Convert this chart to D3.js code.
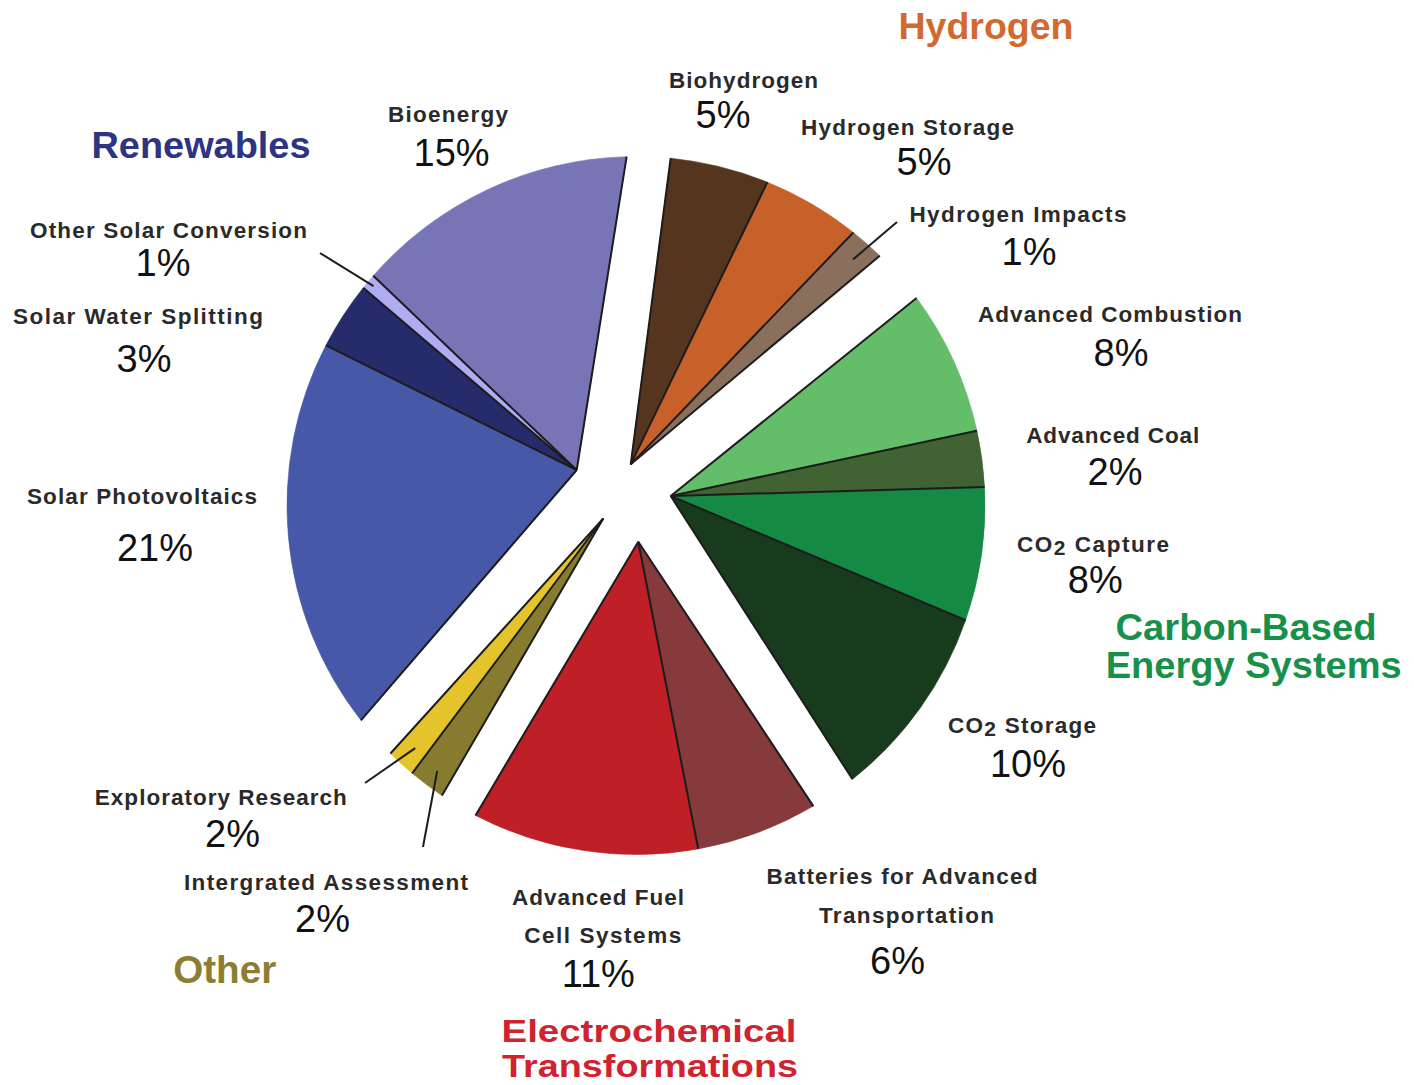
<!DOCTYPE html>
<html>
<head>
<meta charset="utf-8">
<script src="https://cdn.jsdelivr.net/npm/d3@7/dist/d3.min.js"></script>
<style>
  html, body { margin: 0; padding: 0; background: #ffffff; }
  svg { display: block; }
</style>
</head>
<body>
<svg id="chart" width="1414" height="1085"></svg>
<script>
// ---------------- DATA ----------------
const categories = [
  "Biohydrogen", "Hydrogen Storage", "Hydrogen Impacts",
  "Advanced Combustion", "Advanced Coal", "CO2 Capture", "CO2 Storage",
  "Batteries for Advanced Transportation", "Advanced Fuel Cell Systems",
  "Intergrated Assessment", "Exploratory Research",
  "Solar Photovoltaics", "Solar Water Splitting", "Other Solar Conversion", "Bioenergy"
];
// label lines as printed
const labelLines = [
  ["Biohydrogen"], ["Hydrogen Storage"], ["Hydrogen Impacts"],
  ["Advanced Combustion"], ["Advanced Coal"], ["CO2 Capture"], ["CO2 Storage"],
  ["Batteries for Advanced", "Transportation"], ["Advanced Fuel", "Cell Systems"],
  ["Intergrated Assessment"], ["Exploratory Research"],
  ["Solar Photovoltaics"], ["Solar Water Splitting"], ["Other Solar Conversion"], ["Bioenergy"]
];
// share of the pie (percent)
const shares = [5.1, 5.1, 1.8, 7.5, 2.9, 6.9, 10.1, 6.3, 11.7, 1.9, 1.5, 20.3, 3.5, 0.8, 14.7];
// percent labels as printed
const percentLabels = ["5%", "5%", "1%", "8%", "2%", "8%", "10%", "6%", "11%", "2%", "2%", "21%", "3%", "1%", "15%"];
// group membership of each category
const groupOfCategory = [0, 0, 0, 1, 1, 1, 1, 2, 2, 3, 3, 4, 4, 4, 4];
const groupTitles = [
  ["Hydrogen"],
  ["Carbon-Based", "Energy Systems"],
  ["Electrochemical", "Transformations"],
  ["Other"],
  ["Renewables"]
];

// ---------------- STYLE / LAYOUT ----------------
const sliceColors = [
  "#56351f", "#c8602a", "#8b6f5d",
  "#63bd69", "#416232", "#148a44", "#193b1d",
  "#873a3c", "#bf1f27",
  "#877b30", "#e4c32b",
  "#4858a8", "#262b6b", "#b0acf2", "#7875b6"
];
const groupColors = ["#d2692e", "#17914a", "#d1232e", "#8c7d33", "#2e3383"];

const CX = 636, CY = 505.5, R = 349;
const DEG = Math.PI / 180;
const START_DEG = 5.7;                          // where the first group begins
const GAP_AFTER_DEG = [9.2, 7.8, 6.4, 7.3, 7.24]; // white gap after each group
// explosion of each group's apex: [distance, direction in degrees clockwise from north]
const EXPLODE = [[41.5, 352.7], [36, 74.7], [36.3, 176.4], [35.2, 248.3], [69.1, 300.9]];

// label layout: name lines [cx, baseline, width], percent [cx, baseline]
const labelLayout = [
  { lines: [[743.5, 88, 149]], pct: [723, 128.3] },
  { lines: [[907.5, 135, 213]], pct: [924, 175] },
  { lines: [[1018, 221.7, 217]], pct: [1029, 265], leader: [897, 222, 0.94] },
  { lines: [[1110, 321.7, 264]], pct: [1121, 366] },
  { lines: [[1112.7, 443.3, 173]], pct: [1115, 485] },
  { lines: [[1093, 551.7, 152]], pct: [1095.3, 593.3] },
  { lines: [[1022, 733.3, 148]], pct: [1028, 777.3] },
  { lines: [[902, 884.3, 271], [906.5, 922.7, 175]], pct: [897.5, 974] },
  { lines: [[598, 905, 172], [602.7, 943.3, 157]], pct: [598.3, 986.7] },
  { lines: [[326, 890, 284]], pct: [322.5, 932.3], leader: [423, 847, 0.95] },
  { lines: [[220.8, 805, 252]], pct: [232.5, 847.3], leader: [365, 783, 0.94] },
  { lines: [[142, 504, 230]], pct: [155, 560.7] },
  { lines: [[138, 324, 250]], pct: [144, 371.7] },
  { lines: [[168.5, 238.3, 277]], pct: [163, 276], leader: [320, 253, 0.98] },
  { lines: [[448, 121.7, 120]], pct: [451.6, 165.7] }
];
// title lines [cx, baseline, width, font-size]
const titleLayout = [
  [[986, 39, 175, 37]],
  [[1246, 640, 261, 36], [1253.7, 678, 296, 36]],
  [[649, 1042, 295, 32], [650, 1077, 296, 32]],
  [[224.7, 983, 103, 38]],
  [[201, 158, 219, 37]]
];

// ---------------- BUILD ----------------
const svg = d3.select("#chart");
const data = categories.map((c, i) => ({ name: c, share: shares[i], g: groupOfCategory[i], i }));

const sweep = (360 - d3.sum(GAP_AFTER_DEG)) * DEG;
const pie = d3.pie().sort(null).value(d => d.share).startAngle(0).endAngle(sweep);
const arcs = pie(data);
const cumGap = GAP_AFTER_DEG.map((_, k) => d3.sum(GAP_AFTER_DEG.slice(0, k)));
arcs.forEach(a => {
  const off = (START_DEG + cumGap[a.data.g]) * DEG;
  a.a0 = a.startAngle + off;
  a.a1 = a.endAngle + off;
});

const apex = EXPLODE.map(([d, dir]) => [CX + d * Math.sin(dir * DEG), CY - d * Math.cos(dir * DEG)]);
const onCircle = (ang, r = R) => [CX + r * Math.sin(ang), CY - r * Math.cos(ang)];

function slicePath(a) {
  const p = d3.path();
  const [ax, ay] = apex[a.data.g];
  const s = onCircle(a.a0);
  p.moveTo(ax, ay);
  p.lineTo(s[0], s[1]);
  p.arc(CX, CY, R, a.a0 - Math.PI / 2, a.a1 - Math.PI / 2, false);
  p.closePath();
  return p.toString();
}

const gSlices = svg.append("g");
gSlices.selectAll("path.slice").data(arcs).join("path")
  .attr("class", "slice")
  .attr("d", slicePath)
  .attr("fill", d => sliceColors[d.data.i])
  .attr("stroke", d => sliceColors[d.data.i])
  .attr("stroke-width", 0.6);

// radial edges (outer arcs are not outlined)
const edges = [];
arcs.forEach((a, k) => {
  edges.push({ g: a.data.g, ang: a.a0 });
  const next = arcs[k + 1];
  if (!next || next.data.g !== a.data.g) edges.push({ g: a.data.g, ang: a.a1 });
});
svg.append("g").selectAll("line").data(edges).join("line")
  .attr("x1", d => apex[d.g][0]).attr("y1", d => apex[d.g][1])
  .attr("x2", d => onCircle(d.ang)[0]).attr("y2", d => onCircle(d.ang)[1])
  .attr("stroke", "#1c1c1c").attr("stroke-width", 2).attr("stroke-linecap", "butt");

// leader lines
const leaderData = arcs.filter(a => labelLayout[a.data.i].leader);
svg.append("g").selectAll("line").data(leaderData).join("line")
  .attr("x1", d => labelLayout[d.data.i].leader[0])
  .attr("y1", d => labelLayout[d.data.i].leader[1])
  .attr("x2", d => onCircle((d.a0 + d.a1) / 2, R * labelLayout[d.data.i].leader[2])[0])
  .attr("y2", d => onCircle((d.a0 + d.a1) / 2, R * labelLayout[d.data.i].leader[2])[1])
  .attr("stroke", "#1c1c1c").attr("stroke-width", 2);

// category labels
const gLabels = svg.append("g");
data.forEach((d, i) => {
  const lay = labelLayout[i];
  labelLines[i].forEach((line, j) => {
    const [x, y, w] = lay.lines[j];
    const t = gLabels.append("text")
      .attr("x", x).attr("y", y)
      .attr("text-anchor", "middle")
      .attr("font-family", "'Liberation Sans', Arial, sans-serif")
      .attr("font-weight", 700)
      .attr("font-size", 22.5)
      .attr("fill", "#2a2a2a")
      .attr("textLength", w)
      .attr("lengthAdjust", "spacing");
    const m = line.match(/^CO2(.*)$/);
    if (m) {
      t.append("tspan").text("CO");
      t.append("tspan").attr("font-size", 21).attr("dy", 3).text("2");
      t.append("tspan").attr("dy", -3).text(m[1]);
    } else {
      t.text(line);
    }
  });
  gLabels.append("text")
    .attr("x", lay.pct[0]).attr("y", lay.pct[1])
    .attr("text-anchor", "middle")
    .attr("font-family", "'Liberation Sans', Arial, sans-serif")
    .attr("font-size", 38)
    .attr("fill", "#111111")
    .text(percentLabels[i]);
});

// group titles
const gTitles = svg.append("g");
groupTitles.forEach((lines, gi) => {
  lines.forEach((line, j) => {
    const [x, y, w, fs] = titleLayout[gi][j];
    gTitles.append("text")
      .attr("x", x).attr("y", y)
      .attr("text-anchor", "middle")
      .attr("font-family", "'Liberation Sans', Arial, sans-serif")
      .attr("font-weight", 700)
      .attr("font-size", fs)
      .attr("fill", groupColors[gi])
      .attr("textLength", w)
      .attr("lengthAdjust", "spacingAndGlyphs")
      .text(line);
  });
});
</script>
</body>
</html>
